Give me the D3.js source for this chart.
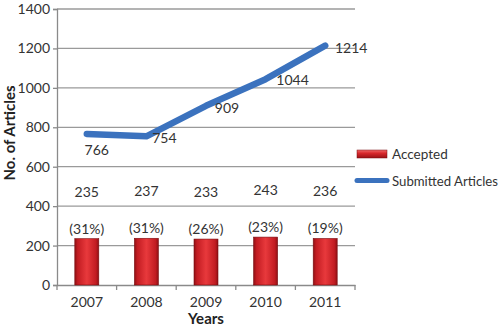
<!DOCTYPE html>
<html><head><meta charset="utf-8">
<script src="https://cdn.jsdelivr.net/npm/d3@7/dist/d3.min.js"></script>
<style>
body{margin:0;background:#fff;}
text{font-family:Lato,"Open Sans",sans-serif;}
</style></head>
<body><svg id="c" width="500" height="327"></svg>
<script>
const years = ["2007","2008","2009","2010","2011"];
const accepted = [235, 237, 233, 243, 236];
const acceptedPct = ["(31%)","(31%)","(26%)","(23%)","(19%)"];
const submitted = [766, 754, 909, 1044, 1214];
const yTicks = [0,200,400,600,800,1000,1200,1400];
const seriesNames = ["Accepted","Submitted Articles"];

const svg = d3.select("#c");
const m = {l:57, r:145, t:9, b:42};
const W = 500, H = 327;
const x = d3.scaleBand().domain(years).range([m.l, W - m.r]);
const y = d3.scaleLinear().domain([0,1400]).range([H - m.b, m.t]);

const defs = svg.append("defs");
const g1 = defs.append("linearGradient").attr("id","barG").attr("x1","0").attr("x2","1").attr("y1","0").attr("y2","0");
[[0,"#8e1014"],[0.12,"#c21c22"],[0.5,"#e8393c"],[0.88,"#c21c22"],[1,"#8e1014"]].forEach(s=>g1.append("stop").attr("offset",s[0]).attr("stop-color",s[1]));
const g2 = defs.append("linearGradient").attr("id","legG").attr("x1","0").attr("x2","0").attr("y1","0").attr("y2","1");
[[0,"#f06a6a"],[0.4,"#d8282c"],[1,"#9a1216"]].forEach(s=>g2.append("stop").attr("offset",s[0]).attr("stop-color",s[1]));

// gridlines
svg.append("g").selectAll("line").data(yTicks.filter(d=>d>0)).join("line")
  .attr("x1", m.l).attr("x2", W - m.r).attr("y1", d=>y(d)).attr("y2", d=>y(d))
  .attr("stroke","#9a9a9a").attr("stroke-width",1.3);

// y axis
const ya = svg.append("g").attr("transform",`translate(${m.l},0)`)
  .call(d3.axisLeft(y).tickValues(yTicks).tickFormat(d3.format("d")).tickSize(4).tickPadding(3));
ya.select(".domain").attr("stroke","#8a8a8a").attr("stroke-width",1.3);
ya.selectAll(".tick line").attr("stroke","#8a8a8a").attr("stroke-width",1.3);
ya.selectAll("text").attr("font-size",14).attr("fill","#333").attr("font-family","Lato,sans-serif");

// x axis
const xa = svg.append("g").attr("transform",`translate(0,${H - m.b})`)
  .call(d3.axisBottom(x).tickSize(0).tickPadding(12));
xa.select(".domain").attr("stroke","#8a8a8a").attr("stroke-width",1.3);
xa.selectAll("text").attr("font-size",14).attr("fill","#333").attr("font-family","Lato,sans-serif");
const bounds = years.map(d=>x(d)).concat([x(years[years.length-1]) + x.bandwidth()]);
xa.selectAll(".bt").data(bounds).join("line").attr("class","bt")
  .attr("x1",d=>d).attr("x2",d=>d).attr("y1",0).attr("y2",5)
  .attr("stroke","#8a8a8a").attr("stroke-width",1.3);

// bars
const bw = 24;
svg.append("g").selectAll("rect").data(accepted).join("rect")
  .attr("x",(d,i)=>x(years[i]) + x.bandwidth()/2 - bw/2)
  .attr("y",d=>y(d)).attr("width",bw).attr("height",d=>y(0)-y(d))
  .attr("fill","url(#barG)").attr("stroke","#7a0c10").attr("stroke-width",0.6);

// bar labels
svg.append("g").selectAll("text").data(acceptedPct).join("text")
  .attr("x",(d,i)=>x(years[i]) + x.bandwidth()/2)
  .attr("y",(d,i)=>y(accepted[i]) - 5)
  .attr("text-anchor","middle").attr("font-size",14).attr("fill","#333").text(d=>d);
svg.append("g").selectAll("text").data(accepted).join("text")
  .attr("x",(d,i)=>x(years[i]) + x.bandwidth()/2)
  .attr("y",d=>y(d) - 42)
  .attr("text-anchor","middle").attr("font-size",14).attr("fill","#333").text(d=>d);

// line
const cx = (d,i)=>x(years[i]) + x.bandwidth()/2;
svg.append("path").datum(submitted)
  .attr("d", d3.line().x(cx).y(d=>y(d)))
  .attr("fill","none").attr("stroke","#3b72be").attr("stroke-width",6.5)
  .attr("stroke-linecap","round").attr("stroke-linejoin","round");

// line labels
const lblOff = [[10,21],[18,7],[21,7],[27,6],[26,7]];
svg.append("g").selectAll("text").data(submitted).join("text")
  .attr("x",(d,i)=>cx(d,i) + lblOff[i][0])
  .attr("y",(d,i)=>y(d) + lblOff[i][1])
  .attr("text-anchor","middle").attr("font-size",14).attr("fill","#333").text(d=>d);

// legend
const lg = svg.append("g");
lg.append("rect").attr("x",357).attr("y",150).attr("width",30).attr("height",8)
  .attr("fill","url(#legG)").attr("stroke","#7a0c10").attr("stroke-width",0.5);
lg.append("text").attr("x",392).attr("y",159).attr("font-size",13.5).attr("fill","#333").text(seriesNames[0]);
lg.append("line").attr("x1",357).attr("x2",387).attr("y1",180.5).attr("y2",180.5)
  .attr("stroke","#3b72be").attr("stroke-width",5).attr("stroke-linecap","round");
lg.append("text").attr("x",392).attr("y",185.5).attr("font-size",13.5).attr("fill","#333")
  .attr("textLength",106).attr("lengthAdjust","spacingAndGlyphs").text(seriesNames[1]);

// axis titles
svg.append("text").attr("transform","translate(15,133) rotate(-90)")
  .attr("text-anchor","middle").attr("font-size",15).attr("font-weight","bold").attr("fill","#222").text("No. of Articles");
svg.append("text").attr("x",206).attr("y",324)
  .attr("text-anchor","middle").attr("font-size",15).attr("font-weight","bold").attr("fill","#222").text("Years");
</script></body></html>
